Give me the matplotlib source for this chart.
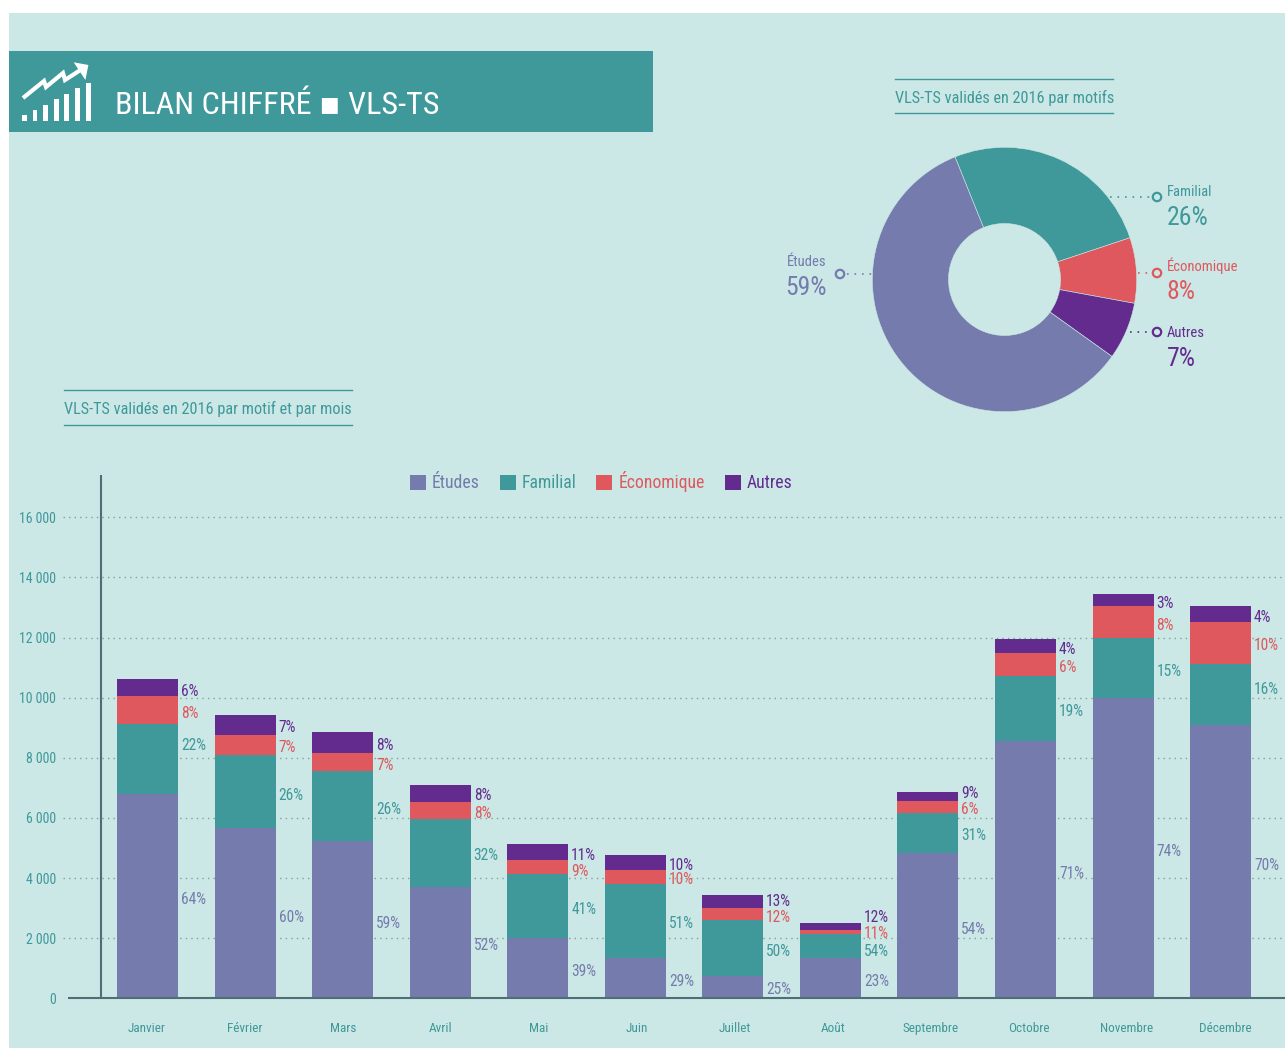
import matplotlib
matplotlib.use("Agg")
import matplotlib.pyplot as plt
from matplotlib import font_manager as fm
from matplotlib.patches import Rectangle, Polygon, Circle

# ---------- data ----------
months = ["Janvier", "Février", "Mars", "Avril", "Mai", "Juin", "Juillet", "Août",
          "Septembre", "Octobre", "Novembre", "Décembre"]
etudes = [6796, 5675, 5223, 3700, 2000, 1340, 752, 1350, 4834, 8543, 9990, 9075]
familial = [2342, 2409, 2338, 2248, 2125, 2460, 1863, 799, 1320, 2179, 1996, 2046]
economique = [919, 675, 599, 572, 465, 475, 389, 123, 409, 765, 1064, 1397]
autres = [565, 665, 699, 565, 533, 485, 432, 233, 300, 466, 400, 532]

pct_etudes = [64, 60, 59, 52, 39, 29, 25, 23, 54, 71, 74, 70]
pct_familial = [22, 26, 26, 32, 41, 51, 50, 54, 31, 19, 15, 16]
pct_economique = [8, 7, 7, 8, 9, 10, 12, 11, 6, 6, 8, 10]
pct_autres = [6, 7, 8, 8, 11, 10, 13, 12, 9, 4, 3, 4]

pie_labels = ["Familial", "Économique", "Autres", "Études"]
pie_values = [26, 8, 7, 59]
y_ticks = [0, 2000, 4000, 6000, 8000, 10000, 12000, 14000, 16000]

# ---------- layout (pixel rows of the percentage labels) ----------
rows_autres = [690, 727, 745, 795, 854, 864, 901, 917, 793, 648, 602, 617]
rows_eco = [712, 747, 764, 813, 871, 879, 916, 933, 809, 666, 624, 645]
rows_fam = [745, 794, 808, 855, 908, 923, 950, 950, 835, 710, 670, 689]
rows_etu = [899, 916, 922, 945, 971, 981, 988, 981, 928, 872, 851, 864]

# ---------- style ----------
BG, TEAL, BLUE, RED, PURPLE, AXIS = "#CBE8E6", "#3F989A", "#757BAC", "#DF585D", "#632B8E", "#4D6F75"
W, H = 1285, 1048
avail = {f.name for f in fm.fontManager.ttflist}
narrow = next((n for n in ["Liberation Sans Narrow", "Roboto Condensed", "Open Sans Condensed", "DejaVu Sans"] if n in avail))
plt.rcParams["font.family"] = [narrow, "DejaVu Sans"]

fig = plt.figure(figsize=(W / 100, H / 100), dpi=100, facecolor="white")

def px_axes(z):
    a = fig.add_axes([0, 0, 1, 1], zorder=z)
    a.set_xlim(0, W); a.set_ylim(H, 0); a.axis("off"); a.patch.set_alpha(0)
    return a

back = px_axes(0)
top = px_axes(5)
back.add_patch(Rectangle((9, 13), W - 9, 1034.5, fc=BG, ec="none"))
back.add_patch(Rectangle((9, 51), 644, 81, fc=TEAL, ec="none"))

# icon
for x0, x1, y0 in [(22, 26.5, 115), (32.8, 37, 110), (43.4, 47.6, 105), (53.9, 59, 99.3),
                   (64.4, 69.4, 94), (75, 80, 88.3), (85.9, 90.5, 82.7)]:
    back.add_patch(Rectangle((x0, y0), x1 - x0, 121 - y0, fc="white", ec="none"))
back.plot([23, 44, 46, 63, 65, 82], [98, 81, 87, 73, 80, 69], color="white", lw=3,
          solid_joinstyle="miter", solid_capstyle="butt")
back.add_patch(Polygon([(73.7, 62.3), (88.4, 65), (85.4, 80)], fc="white", ec="none"))

# headings
top.text(115, 105, "BILAN CHIFFRÉ ▪ VLS-TS", color="white", fontsize=23, va="center", ha="left")
for x0, x1, y, yl0, yl1, s in [(895, 1113, 98, 78.5, 113, "VLS-TS validés en 2016 par motifs"),
                               (64, 352, 409, 389.5, 424.5, "VLS-TS validés en 2016 par motif et par mois")]:
    top.text(x0, y, s, color=TEAL, fontsize=11.7, va="center", ha="left")
    top.plot([x0, x1], [yl0, yl0], color=TEAL, lw=1.0)
    top.plot([x0, x1], [yl1, yl1], color=TEAL, lw=1.0)

# ---------- stacked bars ----------
cx0, dx = 147.5, 97.55
base_px, per_unit = 998.3, 481 / 16000
left_px, top_px = 62.7, 475
ax = fig.add_axes([left_px / W, (H - base_px) / H, (W - left_px) / W, (base_px - top_px) / H], zorder=2)
ax.patch.set_alpha(0)
ax.set_xlim((left_px - cx0) / dx, (W - cx0) / dx)
ax.set_ylim(0, (base_px - top_px) / per_unit)
width = 61 / dx
xs = list(range(len(months)))
bottom = [0] * 12
handles = []
series = [("Études", etudes, BLUE, pct_etudes, rows_etu),
          ("Familial", familial, TEAL, pct_familial, rows_fam),
          ("Économique", economique, RED, pct_economique, rows_eco),
          ("Autres", autres, PURPLE, pct_autres, rows_autres)]
for name, vals, col, pcts, rows in series:
    b = ax.bar(xs, vals, width, bottom=bottom, color=col, label=name, zorder=2, linewidth=0)
    handles.append(b)
    bottom = [p + q for p, q in zip(bottom, vals)]
    for i, (p, r) in enumerate(zip(pcts, rows)):
        ax.text(i + width / 2 + 3 / dx, (base_px - r - 1) / per_unit, f"{p}%", color=col, fontsize=11.2,
                va="center", ha="left", clip_on=False, zorder=4)

ax.set_yticks(y_ticks, [f"{v:,}".replace(",", " ") for v in y_ticks])
# month labels run on a slightly wider pitch (98 px) than the bars in the reference
ax.set_xticks([(147 + 98 * i - cx0) / dx for i in xs], months)
ax.tick_params(axis="y", length=0, pad=32.4, labelsize=10, labelcolor=TEAL)
ax.tick_params(axis="x", length=0, pad=17, labelsize=9.5, labelcolor=TEAL)
ax.yaxis.grid(True, color="#84A097", lw=1, ls=(0, (1, 3)), zorder=0)
ax.set_axisbelow(True)
ax.spines[["top", "right"]].set_visible(False)
ax.spines["left"].set_position(("data", (101 - cx0) / dx))
ax.spines["left"].set_color(AXIS); ax.spines["left"].set_linewidth(1.5)
ax.spines["bottom"].set_color(AXIS); ax.spines["bottom"].set_linewidth(1.5); ax.spines["bottom"].set_zorder(3)
ax.spines["bottom"].set_bounds((67.5 - cx0) / dx, (W - cx0) / dx)
for sp in ["left", "bottom"]:
    ax.spines[sp].set_capstyle("butt")

leg = ax.legend(handles=handles, ncols=4, frameon=False, loc="center left",
                bbox_to_anchor=(410 / W, (H - 482) / H), bbox_transform=fig.transFigure,
                fontsize=12.7, handlelength=0.906, handleheight=0.906, handletextpad=0.34,
                columnspacing=1.13, borderpad=0, borderaxespad=0)
for t, (_, _, c, _, _) in zip(leg.get_texts(), series):
    t.set_color(c)

# ---------- donut ----------
R, pcx, pcy = 132.2, 1004.5, 279.5
axp = fig.add_axes([(pcx - R) / W, (H - pcy - R) / H, 2 * R / W, 2 * R / H], zorder=3)
axp.pie(pie_values, colors=[TEAL, RED, PURPLE, BLUE], startangle=112, counterclock=False, radius=1,
        wedgeprops=dict(width=1 - 56 / R, edgecolor=BG, linewidth=0.4))
axp.set_xlim(-1, 1); axp.set_ylim(-1, 1)

callouts = [(1157, 197, 1110, 1151, 1167, "left", 192, 218),
            (1157, 273, 1138, 1151, 1167, "left", 266, 292),
            (1157, 332, 1130, 1151, 1167, "left", 333, 359),
            (840, 274, 847, 872, 827, "right", 262, 288)]
for (name, val, col, (ccx, ccy, l0, l1, tx, ha, y1, y2)) in zip(pie_labels, pie_values, [TEAL, RED, PURPLE, BLUE], callouts):
    top.plot([l0, l1], [ccy, ccy], color=col, lw=1.2, ls=(0, (1, 3.5)))
    top.add_patch(Circle((ccx, ccy), 4.2, fc=BG, ec=col, lw=1.6))
    top.text(tx, y1, name, color=col, fontsize=10.5, va="center", ha=ha)
    top.text(tx, y2, f"{val}%", color=col, fontsize=18.5, va="center", ha=ha)

fig.savefig("out.png", dpi=100, facecolor="white")
